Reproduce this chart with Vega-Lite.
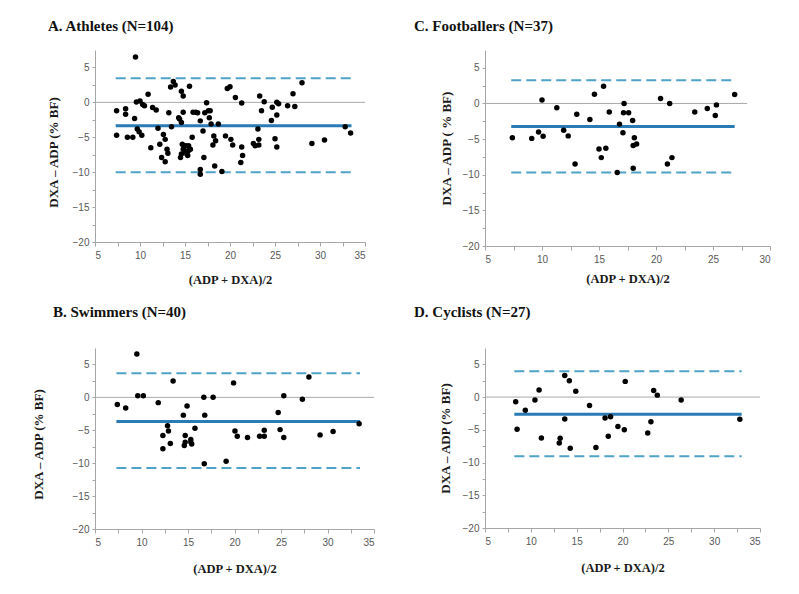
{
"$schema":"https://vega.github.io/schema/vega-lite/v6.json",
"background":"white",
"padding":{"left":32,"top":19,"right":5,"bottom":5},
"datasets":{
"lines":[
{"panel":"A","kind":"zero","x":5,"x2":35,"y":0},
{"panel":"A","kind":"mean","x":7.3,"x2":33.5,"y":-3.35},
{"panel":"A","kind":"limit","x":7.3,"x2":33.5,"y":3.45},
{"panel":"A","kind":"limit","x":7.3,"x2":33.5,"y":-10.0},
{"panel":"C","kind":"zero","x":5,"x2":28,"y":0},
{"panel":"C","kind":"mean","x":7.3,"x2":26.9,"y":-3.25},
{"panel":"C","kind":"limit","x":7.3,"x2":26.9,"y":3.25},
{"panel":"C","kind":"limit","x":7.3,"x2":26.9,"y":-9.7},
{"panel":"B","kind":"zero","x":5,"x2":35,"y":0},
{"panel":"B","kind":"mean","x":7.3,"x2":33.5,"y":-3.65},
{"panel":"B","kind":"limit","x":7.3,"x2":33.5,"y":3.65},
{"panel":"B","kind":"limit","x":7.3,"x2":33.5,"y":-10.75},
{"panel":"D","kind":"zero","x":5,"x2":35,"y":0},
{"panel":"D","kind":"mean","x":8.2,"x2":33.0,"y":-2.64},
{"panel":"D","kind":"limit","x":8.2,"x2":33.0,"y":3.93},
{"panel":"D","kind":"limit","x":8.2,"x2":33.0,"y":-9.05}
],
"A":[
{"x":7.4,"y":-1.2},{"x":7.4,"y":-4.7},{"x":8.4,"y":-0.9},{"x":8.4,"y":-1.7},{"x":8.6,"y":-5.0},{"x":9.2,"y":-5.0},{"x":9.4,"y":-2.3},{"x":9.5,"y":6.5},{"x":9.6,"y":0.05},{"x":9.7,"y":-3.8},{"x":9.9,"y":-4.2},{"x":10.0,"y":0.2},{"x":10.2,"y":-4.7},{"x":10.3,"y":-0.3},{"x":10.5,"y":-0.5},{"x":10.9,"y":1.15},{"x":11.2,"y":-6.5},{"x":11.4,"y":-0.75},{"x":11.8,"y":-1.1},{"x":12.0,"y":-3.7},{"x":12.2,"y":-6.0},{"x":12.4,"y":-7.9},{"x":12.6,"y":-4.6},{"x":12.8,"y":-5.3},{"x":12.8,"y":-8.5},{"x":13.0,"y":-6.7},{"x":13.1,"y":-7.3},{"x":13.2,"y":-1.5},{"x":13.4,"y":2.2},{"x":13.5,"y":-3.5},{"x":13.7,"y":3.0},{"x":13.9,"y":2.5},{"x":14.3,"y":-2.2},{"x":14.4,"y":-2.4},{"x":14.5,"y":-7.9},{"x":14.6,"y":-2.9},{"x":14.6,"y":-7.4},{"x":14.7,"y":-6.0},{"x":14.6,"y":1.6},{"x":14.8,"y":0.9},{"x":14.8,"y":-1.4},{"x":14.8,"y":-6.7},{"x":14.9,"y":-6.3},{"x":15.0,"y":-7.0},{"x":15.1,"y":-6.2},{"x":15.2,"y":-7.4},{"x":15.3,"y":-7.6},{"x":15.4,"y":-6.9},{"x":15.5,"y":2.3},{"x":15.4,"y":-6.2},{"x":15.6,"y":-6.7},{"x":15.8,"y":-5.0},{"x":15.9,"y":-1.4},{"x":16.2,"y":-1.4},{"x":16.4,"y":-1.5},{"x":16.7,"y":-2.65},{"x":16.7,"y":-9.6},{"x":16.7,"y":-10.3},{"x":17.0,"y":-4.1},{"x":17.1,"y":-7.9},{"x":17.2,"y":-1.5},{"x":17.4,"y":-0.05},{"x":17.6,"y":-1.2},{"x":17.7,"y":-2.2},{"x":17.8,"y":-1.2},{"x":17.9,"y":-3.1},{"x":18.1,"y":-6.1},{"x":18.2,"y":-4.8},{"x":18.3,"y":-9.1},{"x":18.4,"y":-5.5},{"x":18.7,"y":-3.1},{"x":19.1,"y":-9.9},{"x":19.5,"y":-4.8},{"x":19.7,"y":2.0},{"x":20.0,"y":2.25},{"x":20.1,"y":-5.3},{"x":20.3,"y":-6.1},{"x":20.6,"y":0.7},{"x":21.2,"y":-8.6},{"x":21.3,"y":-0.1},{"x":21.3,"y":-6.4},{"x":21.4,"y":-7.6},{"x":22.6,"y":-5.9},{"x":22.8,"y":-6.2},{"x":23.1,"y":-3.8},{"x":23.2,"y":-5.3},{"x":23.2,"y":-6.1},{"x":23.3,"y":0.9},{"x":23.5,"y":-1.2},{"x":23.8,"y":0.1},{"x":24.6,"y":-2.6},{"x":24.7,"y":-0.7},{"x":25.0,"y":-5.2},{"x":25.2,"y":0.0},{"x":25.4,"y":-0.2},{"x":25.2,"y":-1.8},{"x":25.2,"y":-6.4},{"x":26.4,"y":-0.5},{"x":27.0,"y":1.25},{"x":27.2,"y":-0.6},{"x":28.0,"y":2.8},{"x":29.1,"y":-5.9},{"x":30.5,"y":-5.4},{"x":32.8,"y":-3.5},{"x":33.4,"y":-4.4}
],
"C":[
{"x":7.4,"y":-4.8},{"x":9.1,"y":-4.9},{"x":9.7,"y":-4.0},{"x":10.0,"y":0.5},{"x":10.1,"y":-4.6},{"x":11.3,"y":-0.6},{"x":11.9,"y":-3.75},{"x":12.3,"y":-4.55},{"x":12.9,"y":-8.5},{"x":13.05,"y":-1.5},{"x":14.2,"y":-2.25},{"x":14.6,"y":1.3},{"x":15.0,"y":-6.4},{"x":15.2,"y":-7.6},{"x":15.4,"y":2.4},{"x":15.6,"y":-6.3},{"x":15.9,"y":-1.2},{"x":16.6,"y":-9.7},{"x":16.8,"y":-2.9},{"x":17.1,"y":-4.1},{"x":17.15,"y":-1.3},{"x":17.2,"y":0.0},{"x":17.6,"y":-1.3},{"x":17.95,"y":-2.4},{"x":18.0,"y":-9.1},{"x":18.0,"y":-5.9},{"x":18.1,"y":-4.8},{"x":18.3,"y":-5.7},{"x":20.4,"y":0.7},{"x":21.2,"y":0.0},{"x":21.0,"y":-8.5},{"x":21.4,"y":-7.6},{"x":23.4,"y":-1.2},{"x":24.5,"y":-0.7},{"x":25.2,"y":-1.7},{"x":25.3,"y":-0.2},{"x":26.9,"y":1.25}
],
"B":[
{"x":7.4,"y":-1.1},{"x":8.3,"y":-1.6},{"x":9.5,"y":6.6},{"x":9.6,"y":0.25},{"x":10.2,"y":0.25},{"x":11.8,"y":-0.8},{"x":12.3,"y":-5.8},{"x":12.3,"y":-7.8},{"x":12.8,"y":-4.3},{"x":12.9,"y":-5.1},{"x":13.1,"y":-7.0},{"x":13.4,"y":2.5},{"x":14.5,"y":-2.7},{"x":14.6,"y":-7.3},{"x":14.7,"y":-5.8},{"x":14.9,"y":-1.3},{"x":14.7,"y":-6.8},{"x":15.3,"y":-6.4},{"x":15.4,"y":-7.1},{"x":15.3,"y":-6.8},{"x":15.75,"y":-4.7},{"x":16.7,"y":0.0},{"x":16.8,"y":-2.7},{"x":16.75,"y":-10.1},{"x":17.7,"y":0.0},{"x":19.1,"y":-9.7},{"x":19.9,"y":2.2},{"x":20.05,"y":-5.1},{"x":20.3,"y":-5.9},{"x":21.4,"y":-6.1},{"x":22.7,"y":-5.9},{"x":23.2,"y":-5.0},{"x":23.2,"y":-5.9},{"x":24.7,"y":-2.3},{"x":24.9,"y":-4.9},{"x":25.3,"y":0.25},{"x":25.3,"y":-6.1},{"x":27.3,"y":-0.3},{"x":28.0,"y":3.1},{"x":29.2,"y":-5.7},{"x":30.6,"y":-5.2},{"x":33.4,"y":-4.0}
],
"D":[
{"x":8.35,"y":-0.7},{"x":8.5,"y":-4.9},{"x":9.4,"y":-2.0},{"x":10.45,"y":-0.45},{"x":10.9,"y":1.1},{"x":11.15,"y":-6.25},{"x":13.1,"y":-7.0},{"x":13.2,"y":-6.3},{"x":13.7,"y":-3.35},{"x":13.7,"y":3.3},{"x":14.2,"y":2.5},{"x":14.3,"y":-7.8},{"x":14.9,"y":0.9},{"x":16.4,"y":-1.3},{"x":17.1,"y":-7.7},{"x":18.1,"y":-3.2},{"x":18.45,"y":-6.0},{"x":18.7,"y":-3.0},{"x":19.5,"y":-4.5},{"x":20.2,"y":-5.0},{"x":20.3,"y":2.4},{"x":22.75,"y":-5.5},{"x":23.1,"y":-3.75},{"x":23.4,"y":1.0},{"x":23.8,"y":0.3},{"x":26.4,"y":-0.45},{"x":32.8,"y":-3.4}
]
},
"columns":2,
"align":"none",
"spacing":{"row":19,"column":39},
"concat":[
{"width":270,"height":192,
"title":{"text":"A. Athletes (N=104)","dx":-47,"offset":16},
"encoding":{
"x":{"field":"x","type":"quantitative","scale":{"domain":[5,35],"nice":false,"zero":false},"axis":{"values":[5,7.5,10,12.5,15,17.5,20,22.5,25,27.5,30,32.5,35],"labelExpr":"datum.value % 5 === 0 ? datum.label : ''","title":"(ADP + DXA)/2","titlePadding":13,"tickSize":4,"labelPadding":4}},
"y":{"field":"y","type":"quantitative","scale":{"domain":[-20,7.5],"nice":false,"zero":false},"axis":{"values":[-20,-17.5,-15,-12.5,-10,-7.5,-5,-2.5,0,2.5,5],"labelExpr":"datum.value % 5 === 0 ? datum.label : ''","title":"DXA – ADP  (% BF)","titlePadding":12,"titleY":102,"titleFontSize":13}}},
"layer":[
{"data":{"name":"lines"},"transform":[{"filter":"datum.panel==='A' && datum.kind==='zero'"}],"mark":{"type":"rule","color":"#aaaaaa","strokeWidth":1},"encoding":{"x2":{"field":"x2"}}},
{"data":{"name":"lines"},"transform":[{"filter":"datum.panel==='A' && datum.kind==='limit'"}],"mark":{"type":"rule","color":"#4fa3c7","strokeWidth":2,"strokeDash":[10,5]},"encoding":{"x2":{"field":"x2"}}},
{"data":{"name":"lines"},"transform":[{"filter":"datum.panel==='A' && datum.kind==='mean'"}],"mark":{"type":"rule","color":"#2a7ab6","strokeWidth":3},"encoding":{"x2":{"field":"x2"}}},
{"data":{"name":"A"},"mark":{"type":"circle","color":"#000000","opacity":1,"size":30}}
]},
{"width":285,"height":196,
"title":{"text":"C. Footballers (N=37)","dx":-71,"offset":16},
"encoding":{
"x":{"field":"x","type":"quantitative","scale":{"domain":[5,30],"nice":false,"zero":false},"axis":{"values":[5,7.5,10,12.5,15,17.5,20,22.5,25,27.5,30],"labelExpr":"datum.value % 5 === 0 ? datum.label : ''","title":"(ADP + DXA)/2","titlePadding":8,"tickSize":4,"labelPadding":4}},
"y":{"field":"y","type":"quantitative","scale":{"domain":[-20,7.5],"nice":false,"zero":false},"axis":{"values":[-20,-17.5,-15,-12.5,-10,-7.5,-5,-2.5,0,2.5,5],"labelExpr":"datum.value % 5 === 0 ? datum.label : ''","title":"DXA – ADP ( % BF)","titlePadding":9,"titleFontSize":13}}},
"layer":[
{"data":{"name":"lines"},"transform":[{"filter":"datum.panel==='C' && datum.kind==='zero'"}],"mark":{"type":"rule","color":"#aaaaaa","strokeWidth":1},"encoding":{"x2":{"field":"x2"}}},
{"data":{"name":"lines"},"transform":[{"filter":"datum.panel==='C' && datum.kind==='limit'"}],"mark":{"type":"rule","color":"#4fa3c7","strokeWidth":2,"strokeDash":[10,5]},"encoding":{"x2":{"field":"x2"}}},
{"data":{"name":"lines"},"transform":[{"filter":"datum.panel==='C' && datum.kind==='mean'"}],"mark":{"type":"rule","color":"#2a7ab6","strokeWidth":3},"encoding":{"x2":{"field":"x2"}}},
{"data":{"name":"C"},"mark":{"type":"circle","color":"#000000","opacity":1,"size":30}}
]},
{"width":279,"height":181,
"title":{"text":"B. Swimmers (N=40)","dx":-42,"offset":28},
"encoding":{
"x":{"field":"x","type":"quantitative","scale":{"domain":[5,35],"nice":false,"zero":false},"axis":{"values":[5,7.5,10,12.5,15,17.5,20,22.5,25,27.5,30,32.5,35],"labelExpr":"datum.value % 5 === 0 ? datum.label : ''","title":"(ADP + DXA)/2","titlePadding":15,"tickSize":4,"labelPadding":4}},
"y":{"field":"y","type":"quantitative","scale":{"domain":[-20,7.5],"nice":false,"zero":false},"axis":{"values":[-20,-17.5,-15,-12.5,-10,-7.5,-5,-2.5,0,2.5,5],"labelExpr":"datum.value % 5 === 0 ? datum.label : ''","title":"DXA – ADP  (% BF)","titlePadding":27,"titleY":96,"titleFontSize":13}}},
"layer":[
{"data":{"name":"lines"},"transform":[{"filter":"datum.panel==='B' && datum.kind==='zero'"}],"mark":{"type":"rule","color":"#aaaaaa","strokeWidth":1},"encoding":{"x2":{"field":"x2"}}},
{"data":{"name":"lines"},"transform":[{"filter":"datum.panel==='B' && datum.kind==='limit'"}],"mark":{"type":"rule","color":"#4fa3c7","strokeWidth":2,"strokeDash":[10,5]},"encoding":{"x2":{"field":"x2"}}},
{"data":{"name":"lines"},"transform":[{"filter":"datum.panel==='B' && datum.kind==='mean'"}],"mark":{"type":"rule","color":"#2a7ab6","strokeWidth":3},"encoding":{"x2":{"field":"x2"}}},
{"data":{"name":"B"},"mark":{"type":"circle","color":"#000000","opacity":1,"size":30}}
]},
{"width":275,"height":180,
"title":{"text":"D. Cyclists (N=27)","dx":-71,"offset":28},
"encoding":{
"x":{"field":"x","type":"quantitative","scale":{"domain":[5,35],"nice":false,"zero":false},"axis":{"values":[5,7.5,10,12.5,15,17.5,20,22.5,25,27.5,30,32.5,35],"labelExpr":"datum.value % 5 === 0 ? datum.label : ''","title":"(ADP + DXA)/2","titlePadding":15,"tickSize":4,"labelPadding":4}},
"y":{"field":"y","type":"quantitative","scale":{"domain":[-20,7.5],"nice":false,"zero":false},"axis":{"values":[-20,-17.5,-15,-12.5,-10,-7.5,-5,-2.5,0,2.5,5],"labelExpr":"datum.value % 5 === 0 ? datum.label : ''","title":"DXA – ADP  (% BF)","titlePadding":10,"titleFontSize":13}}},
"layer":[
{"data":{"name":"lines"},"transform":[{"filter":"datum.panel==='D' && datum.kind==='zero'"}],"mark":{"type":"rule","color":"#aaaaaa","strokeWidth":1},"encoding":{"x2":{"field":"x2"}}},
{"data":{"name":"lines"},"transform":[{"filter":"datum.panel==='D' && datum.kind==='limit'"}],"mark":{"type":"rule","color":"#4fa3c7","strokeWidth":2,"strokeDash":[10,5]},"encoding":{"x2":{"field":"x2"}}},
{"data":{"name":"lines"},"transform":[{"filter":"datum.panel==='D' && datum.kind==='mean'"}],"mark":{"type":"rule","color":"#2a7ab6","strokeWidth":3},"encoding":{"x2":{"field":"x2"}}},
{"data":{"name":"D"},"mark":{"type":"circle","color":"#000000","opacity":1,"size":30}}
]}
],
"config":{
"font":"Liberation Sans",
"view":{"stroke":null},
"axis":{"grid":false,"domainColor":"#a6a6a6","tickColor":"#a6a6a6","tickSize":3,"labelColor":"#595959","labelFontSize":10,"labelFont":"Liberation Sans","titleFont":"Liberation Serif","titleFontWeight":"bold","titleFontSize":12.5,"titleColor":"#1a1a1a","labelPadding":3},
"title":{"font":"Liberation Serif","fontSize":15,"fontWeight":"bold","anchor":"start","frame":"group","color":"#111111","baseline":"alphabetic"}
}
}
